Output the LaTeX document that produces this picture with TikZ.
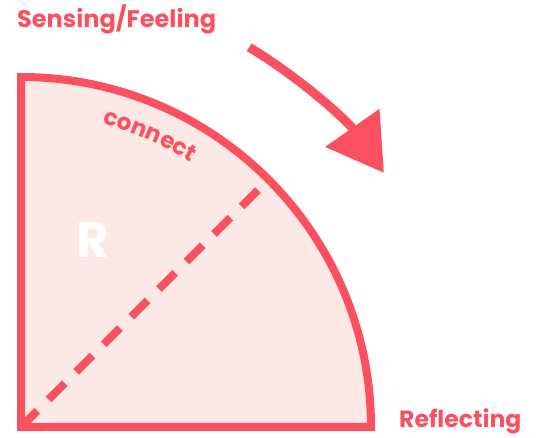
\documentclass[tikz,border=0pt]{standalone}
\usepackage{fontspec}
\setmainfont{Poppins}
\usetikzlibrary{arrows.meta,decorations.text}
\definecolor{accent}{RGB}{250,80,96}
\definecolor{blush}{RGB}{252,232,228}

\begin{document}
\begin{tikzpicture}[x=1pt,y=1pt,line join=miter,
  every node/.style={inner sep=0pt,font=\bfseries},
  rim/.style={draw=accent,line width=8pt,fill=blush},
  split/.style={draw=accent,line width=8pt,dash pattern=on 23pt off 16pt},
  turn/.style={draw=accent,line width=9pt,-{Triangle[length=55pt,width=64pt]}}]
\useasboundingbox (0,0) rectangle (536,438);
% quarter disc with its diagonal
\coordinate (o) at (21,11);
\coordinate (m) at (268.5,258.5);
\path[rim] (o) -- (21,361) arc[start angle=90,end angle=0,radius=350] -- cycle;
\draw[split] (o) -- (m);
\path[decorate,decoration={text along path,text align={left indent=0pt},
  text={|\fontsize{23}{23}\selectfont\bfseries\color{accent}|connect}}]
  (21,11) ++(75:314) arc[start angle=75,end angle=50,radius=314];
\node[text=white,font=\bfseries\fontsize{50}{50}\selectfont] (r) at (93,198) {R};
% the turn
\draw[turn] (21,11) ++(59:443) arc[start angle=59,end angle=35,radius=443];
\node[anchor=base west,text=accent,font=\bfseries\fontsize{24}{24}\selectfont] (sense) at (17,410) {Sensing/Feeling};
\node[anchor=base west,text=accent,font=\bfseries\fontsize{23.5}{23.5}\selectfont] (refl) at (399,10) {Reflecting};
\end{tikzpicture}
\end{document}
